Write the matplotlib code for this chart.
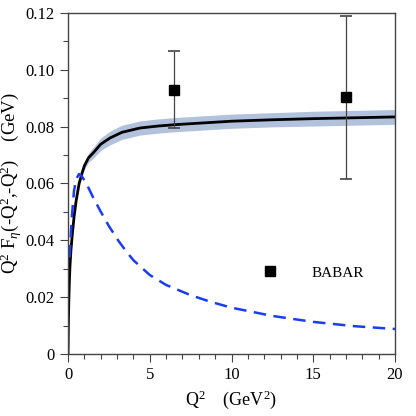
import matplotlib
matplotlib.use('Agg')
import matplotlib.pyplot as plt
from matplotlib.lines import Line2D
import numpy as np

plt.rcParams['font.family'] = ['Liberation Serif', 'DejaVu Serif']
plt.rcParams['mathtext.fontset'] = 'custom'
plt.rcParams['mathtext.rm'] = 'Liberation Serif'
plt.rcParams['mathtext.it'] = 'Liberation Serif:italic'

# solid curve with error band
q_fit = [0, 0.02, 0.05, 0.08, 0.12, 0.18, 0.26, 0.37, 0.5, 0.68, 0.85, 1.0,
         1.25, 1.55, 2.0, 2.57, 3.3, 4.4, 5.5, 6.6, 8, 10, 12.5, 15, 17.5, 20]
f_fit = [0, 0.010, 0.019, 0.025, 0.031, 0.0366, 0.042, 0.0483, 0.054, 0.060,
         0.0635, 0.0662, 0.069, 0.0708, 0.0738, 0.0760, 0.0780, 0.0795, 0.0802,
         0.0807, 0.0812, 0.0819, 0.0824, 0.0828, 0.0831, 0.0834]
f_err = [0, 0, 0, 0, 0, 0, 0, 0.0002, 0.0004, 0.0007, 0.001, 0.0013, 0.0016,
         0.0019, 0.0022, 0.0024, 0.0025, 0.0025, 0.0025, 0.0025, 0.0025, 0.0025,
         0.0025, 0.0026, 0.0026, 0.0026]

# dashed curve
q_dash = [0.1, 0.15, 0.22, 0.3, 0.37, 0.5, 0.67, 0.85, 1.14, 1.5, 1.96, 2.5,
          3.1, 3.6, 4.0, 5.0, 6.0, 7.5, 8.7, 10, 12.5, 15, 17.5, 20]
f_dash = [0.034, 0.040, 0.047, 0.053, 0.0575, 0.0615, 0.0633, 0.0625, 0.0598,
          0.0555, 0.0505, 0.0450, 0.0397, 0.0358, 0.0330, 0.0278, 0.0243,
          0.0207, 0.0184, 0.0163, 0.0134, 0.0113, 0.0098, 0.0088]

# BABAR data
q_babar = [6.5, 17.0]
f_babar = [0.093, 0.0905]
err_lo = [0.0135, 0.029]
err_hi = [0.0135, 0.0285]

fig = plt.figure(figsize=(4.16, 4.16), dpi=100)
ax = fig.add_axes([0.1635, 0.149, 0.786, 0.82])

q_fit = np.array(q_fit)
f_fit = np.array(f_fit)
f_err = np.array(f_err)
ax.fill_between(q_fit, f_fit - f_err, f_fit + f_err, color='#b3c2dc', lw=0)
ax.plot(q_fit, f_fit, color='black', lw=2)
ax.plot(q_dash, f_dash, color='#1a3cf5', lw=1.8, ls=(0, (5, 3)))
ax.errorbar(q_babar, f_babar, yerr=[err_lo, err_hi], fmt='s', color='black',
            ms=7, ecolor='#444444', elinewidth=0.9, capsize=4.5, capthick=1.2)

ax.set_xlim(0, 20)
ax.set_ylim(0, 0.12)
ax.set_xticks([0, 5, 10, 15, 20])
ax.set_xticks(np.arange(0, 21, 1), minor=True)
ax.set_yticks([0, 0.02, 0.04, 0.06, 0.08, 0.10, 0.12])
ax.set_yticklabels(['0', '0.02', '0.04', '0.06', '0.08', '0.10', '0.12'])
ax.set_yticks(np.arange(0, 0.121, 0.01), minor=True)
ax.tick_params(which='major', length=6, width=0.8, labelsize=12, color='#444444')
ax.tick_params(which='minor', length=3.5, width=0.8, color='#444444')
for s in ax.spines.values():
    s.set_color('#444444')
    s.set_linewidth(1)

ax.set_xlabel(r'Q$^2$    (GeV$^2$)', fontsize=13, labelpad=4)
ax.set_ylabel(r'Q$^2$ F$_\eta$(-Q$^2$,-Q$^2$)    (GeV)', fontsize=13.5,
              labelpad=1)

handle = Line2D([], [], marker='s', color='black', ls='none', ms=7)
ax.legend([handle], ['BABAR'], loc=(0.572, 0.2), frameon=False, fontsize=11,
          handletextpad=2.1, handlelength=1.2)

fig.savefig('out.png', dpi=100)
